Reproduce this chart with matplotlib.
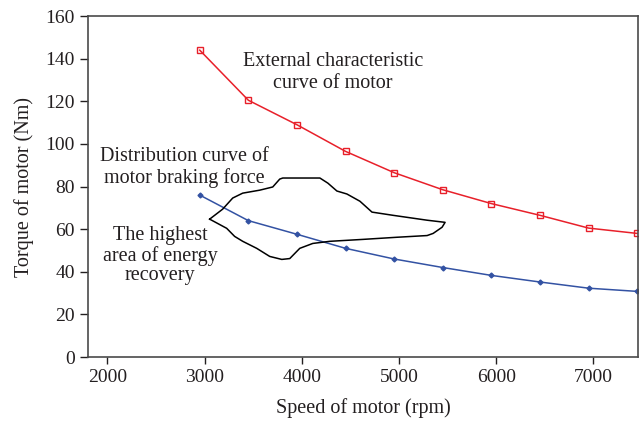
import matplotlib
matplotlib.use("Agg")
import matplotlib.pyplot as plt

plt.rcParams['font.family'] = ['Liberation Serif', 'DejaVu Serif']

# motor speed (rpm)
speed = [2950, 3450, 3950, 4450, 4950, 5450, 5950, 6450, 6950, 7450]
# external characteristic curve (Nm)
torque_ext = [144, 120.5, 109, 96.5, 86.5, 78.5, 72, 66.5, 60.5, 58]
# braking force distribution curve (Nm)
torque_brake = [76, 64, 57.6, 51, 46, 42, 38.3, 35.2, 32.3, 30.8]

# outline of the highest energy recovery area
area_x = [3052, 3186, 3289, 3392, 3567, 3701, 3773, 3804, 4186, 4268, 4361,
          4464, 4598, 4722, 4938, 5289, 5474, 5443, 5351, 5289, 4979, 4629,
          4289, 4113, 3979, 3876, 3794, 3670, 3536, 3392, 3309, 3227, 3052]
area_y = [64.7, 69.4, 74.6, 76.9, 78.3, 79.8, 83.5, 84.0, 84.0, 81.6, 77.9,
          76.5, 73.1, 68.0, 66.5, 64.2, 63.2, 60.9, 58.0, 57.0, 56.2, 55.2,
          54.3, 53.3, 51.0, 46.2, 45.8, 47.2, 51.0, 54.3, 56.6, 60.4, 64.7]

fig = plt.figure(figsize=(6.42, 4.23), dpi=100)
ax = fig.add_axes([0.137, 0.156, 0.857, 0.806])

ax.plot(speed, torque_ext, color='#e8202a', lw=1.1, marker='s', ms=4.5,
        mfc='none', mec='#e8202a', mew=1.0)
ax.plot(speed, torque_brake, color='#3352a3', lw=1.1, marker='D', ms=2.5,
        mfc='#3352a3', mec='#3352a3')
ax.plot(area_x, area_y, color='black', lw=1.1)

fs = 14.5
ax.text(4320, 133.5, "External characteristic\ncurve of motor", ha='center',
        va='center', fontsize=fs, color='#231f20', linespacing=1.15)
ax.text(2790, 89, "Distribution curve of\nmotor braking force", ha='center',
        va='center', fontsize=fs, color='#231f20', linespacing=1.15)
ax.text(2540, 47.5, "The highest\narea of energy\nrecovery", ha='center',
        va='center', fontsize=fs, color='#231f20', linespacing=1.05)

ax.set_xlim(1800, 7460)
ax.set_ylim(0, 160)
ax.set_xticks([2000, 3000, 4000, 5000, 6000, 7000])
ax.set_yticks(range(0, 161, 20))
ax.tick_params(labelsize=14, colors='#231f20', length=5, width=1)
ax.tick_params(axis='y', length=6)
ax.set_xlabel("Speed of motor (rpm)", fontsize=fs, color='#231f20', labelpad=9)
ax.set_ylabel("Torque of motor (Nm)", fontsize=fs, color='#231f20', labelpad=8)
for s in ax.spines.values():
    s.set_color('#4a4a4a')
    s.set_linewidth(1.2)

fig.savefig("out.png", dpi=100)
